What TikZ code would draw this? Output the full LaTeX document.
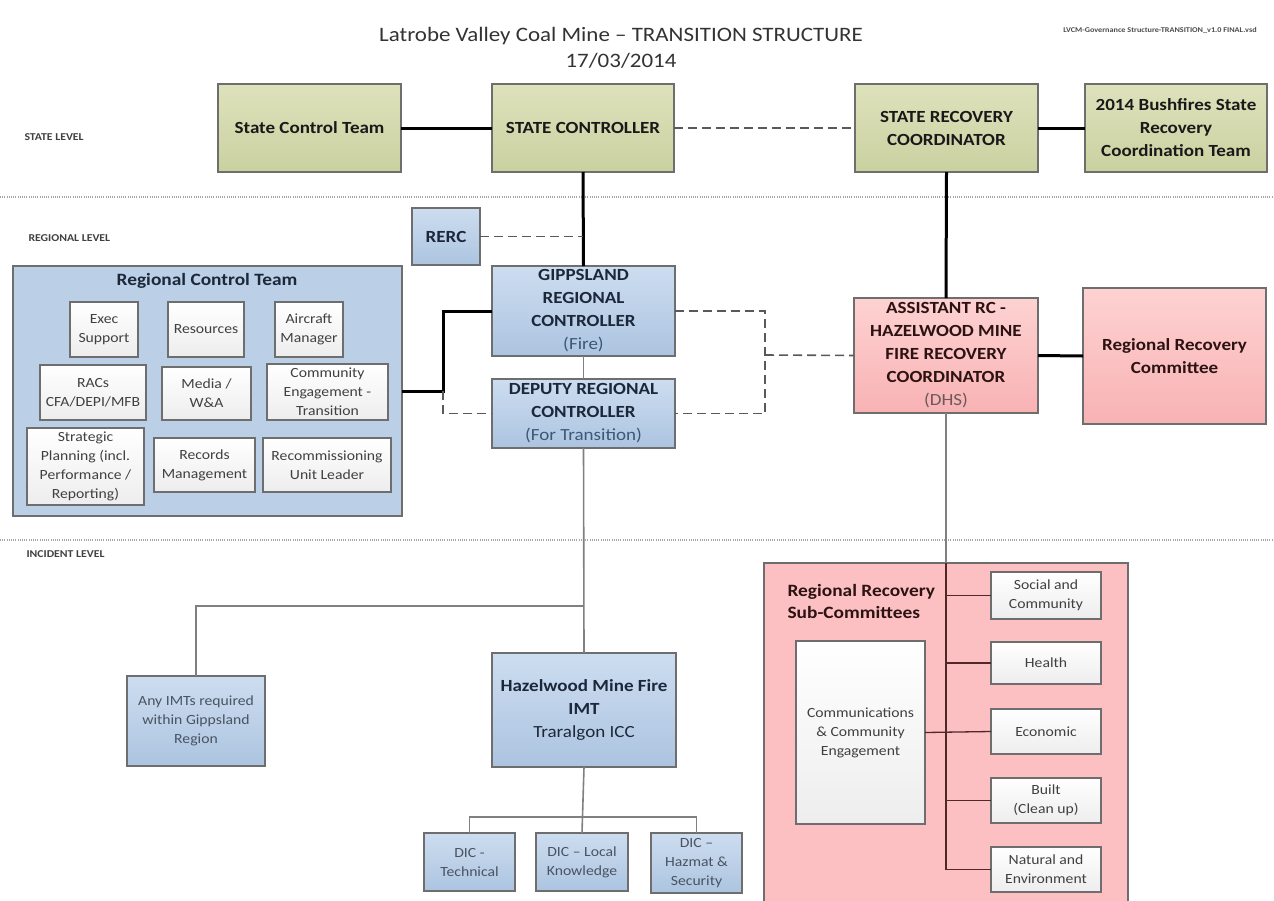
\documentclass[tikz,border=0pt]{standalone}
\usepackage{fontspec}
\setmainfont{Carlito}[FakeStretch=1.12]
\definecolor{grnT}{RGB}{222,226,188}
\definecolor{grnB}{RGB}{202,209,160}
\definecolor{bluT}{RGB}{205,221,240}
\definecolor{bluB}{RGB}{172,196,224}
\definecolor{bluF}{RGB}{187,207,230}
\definecolor{pnkT}{RGB}{254,210,210}
\definecolor{pnkB}{RGB}{248,178,180}
\definecolor{pnkF}{RGB}{252,192,194}
\definecolor{bord}{RGB}{110,110,110}
\definecolor{navy}{RGB}{28,40,58}
\definecolor{navyL}{RGB}{60,88,120}
\definecolor{maroon}{RGB}{45,18,18}
\definecolor{sublin}{RGB}{80,40,40}
\tikzset{
  bx/.style={draw=bord, line width=1.3pt, inner sep=0pt, outer sep=0pt, align=center},
  big/.style={font=\fontsize{17}{23}\selectfont\bfseries},
  small/.style={font=\fontsize{14}{19}\selectfont, text=black!75},
  grn/.style={bx, big, top color=grnT, bottom color=grnB, text=black!90},
  blu/.style={bx, big, top color=bluT, bottom color=bluB, text=navy},
  blusm/.style={bx, small, top color=bluT, bottom color=bluB, text=navy!80},
  pnk/.style={bx, big, top color=pnkT, bottom color=pnkB, text=maroon},
  wht/.style={bx, small, top color=white, bottom color=black!7, line width=1.1pt},
  thick/.style={line width=3pt, black},
  dsh/.style={line width=1.6pt, black!65, dash pattern=on 9pt off 5pt},
  thin/.style={line width=1.6pt, black!50},
  sub/.style={line width=1.3pt, sublin},
  lvl/.style={line width=2.2pt, black!35, dash pattern=on 1pt off 1.2pt},
  lvltxt/.style={anchor=west, font=\fontsize{10.5}{12}\selectfont\bfseries, text=black!75}
}
\newcommand\bx[6][]{\node[#1, minimum width={(#4-#2)*1pt}, minimum height={(#5-#3)*1pt}] (#6) at ({(#2+#4)/2},{(#3+#5)/2})}
\begin{document}
\begin{tikzpicture}[x=1pt,y=-1pt]
\useasboundingbox (0,0) rectangle (1274,900);
\clip (0,0) rectangle (1274,900);
\fill[white] (0,0) rectangle (1274,900);

% titles
\node[font=\fontsize{20.5}{24}\selectfont, text=black!80] (title) at (621,36) {Latrobe Valley Coal Mine – TRANSITION STRUCTURE};
\node[font=\fontsize{20.5}{24}\selectfont, text=black!80] (date) at (621,61) {17/03/2014};
\node[font=\fontsize{7.3}{8}\selectfont\bfseries, text=black!70] (fname) at (1160,30) {LVCM-Governance Structure-TRANSITION\_v1.0 FINAL.vsd};

% level separators
\draw[lvl] (0,197) -- (1274,197);
\draw[lvl] (0,540) -- (1274,540);
\node[lvltxt] (lstate) at (21,137) {STATE LEVEL};
\node[lvltxt] (lreg) at (25,238) {REGIONAL LEVEL};
\node[lvltxt] (linc) at (23,554) {INCIDENT LEVEL};

% state level
\bx[grn]{218}{84}{401}{172}{sct} {State Control Team};
\bx[grn]{492}{84}{674}{172}{sc} {STATE CONTROLLER};
\bx[grn]{855}{84}{1038}{172}{src} {STATE RECOVERY\\COORDINATOR};
\bx[grn]{1085}{84}{1267}{172}{bush} {2014 Bushfires State\\Recovery\\Coordination Team};

% regional level
\bx[blu]{412}{208}{480}{265}{rerc} {RERC};
\bx[blu]{492}{266}{675}{356}{grc} {GIPPSLAND\\REGIONAL\\CONTROLLER\\{\mdseries\color{navyL}(Fire)}};
\bx[blu]{492}{379}{675}{448}{drc} {\fontsize{17}{22.5}\selectfont DEPUTY REGIONAL\\CONTROLLER\\{\mdseries\color{navyL}(For Transition)}};

\bx[bx, fill=bluF]{13}{266}{402}{516}{rct} {};
\node[font=\fontsize{17.3}{20}\selectfont\bfseries, text=navy] (rcttitle) at (207,281) {Regional Control Team};
\bx[wht]{70}{302}{138}{357}{exec} {Exec\\Support};
\bx[wht]{168}{302}{244}{357}{res} {Resources};
\bx[wht]{275}{302}{343}{357}{air} {Aircraft\\Manager};
\bx[wht]{40}{365}{146}{420}{racs} {RACs\\CFA/DEPI/MFB};
\bx[wht]{162}{367}{251}{420}{media} {Media /\\W\&A};
\bx[wht]{267}{364}{388}{420}{comeng} {Community\\Engagement -\\Transition};
\bx[wht]{27}{428}{144}{505}{strat} {Strategic\\Planning (incl.\\Performance /\\Reporting)};
\bx[wht]{154}{438}{255}{492}{rec} {Records\\Management};
\bx[wht]{263}{438}{391}{492}{recom} {Recommissioning\\Unit Leader};

\bx[pnk]{854}{298}{1038}{413}{arc} {\fontsize{17}{23}\selectfont ASSISTANT RC -\\HAZELWOOD MINE\\FIRE RECOVERY\\COORDINATOR\\{\mdseries\color{maroon!70}(DHS)}};
\bx[pnk]{1083}{288}{1266}{424}{rrc} {Regional Recovery\\Committee};

% incident level
\bx[blusm]{127}{676}{265}{766}{imt} {Any IMTs required\\within Gippsland\\Region};
\bx[blu]{492}{653}{676}{767}{hz} {Hazelwood Mine Fire\\IMT\\{\mdseries Traralgon ICC}};
\bx[blusm]{424}{833}{515}{891}{dic1} {DIC -\\Technical};
\bx[blusm]{536}{833}{628}{891}{dic2} {DIC – Local\\Knowledge};
\bx[blusm]{651}{833}{742}{893}{dic3} {\fontsize{14}{18}\selectfont DIC –\\Hazmat \&\\Security};

\bx[bx, fill=pnkF]{764}{563}{1128}{920}{rrsc} {};
\node[anchor=north west, align=left, font=\fontsize{17.3}{22}\selectfont\bfseries, text=maroon] (rrsctitle) at (784,581) {Regional Recovery\\Sub-Committees};
\bx[wht]{796}{641}{925}{824}{comm} {Communications\\\& Community\\Engagement};
\bx[wht]{991}{572}{1101}{619}{soc} {Social and\\Community};
\bx[wht]{991}{642}{1101}{684}{hea} {Health};
\bx[wht]{991}{709}{1101}{754}{eco} {Economic};
\bx[wht]{991}{778}{1101}{823}{blt} {Built\\(Clean up)};
\bx[wht]{991}{847}{1101}{892}{nat} {Natural and\\Environment};

% coordinates
\coordinate (jx) at (443,391);
\coordinate (jr) at (765,355);
\coordinate (ji) at (583,606);
\coordinate (jd) at (583,817);

% connectors
\draw[thick] (sct.east) -- (sc.west);
\draw[dsh] (sc.east) -- (src.west);
\draw[thick] (src.east) -- (bush.west);
\draw[thick] (sc.south) -- (grc.north);
\draw[dsh] (rerc.east) -- (rerc.east -| sc.south);
\draw[thick] (src.south) -- (arc.north);
\draw[thick] (arc.east) -- (rrc.west);
\draw[thick] (rct.east) -- (jx) |- (grc.west);
\draw[dsh] (jx) |- (drc.west);
\draw[dsh] (grc.east) -| (jr) |- (drc.east);
\draw[dsh] (jr) -- (arc.west);
\draw[thin] (grc.south) -- (drc.north);
\draw[thin] (drc.south) -- (hz.north);
\draw[thin] (ji) -| (imt.north);
\draw[thin] (hz.south) -- (dic2.north);
\draw[thin] (dic1.north) |- (jd) -| (dic3.north);
\draw[thin] (arc.south) -- (arc.south |- rrsc.north);
\draw[sub] (arc.south |- rrsc.north) -- (arc.south |- nat.west) -- (nat.west);
\draw[sub] (arc.south |- soc.west) -- (soc.west);
\draw[sub] (arc.south |- hea.west) -- (hea.west);
\draw[sub] (comm.east) -- (eco.west);
\draw[sub] (arc.south |- blt.west) -- (blt.west);
\end{tikzpicture}
\end{document}
